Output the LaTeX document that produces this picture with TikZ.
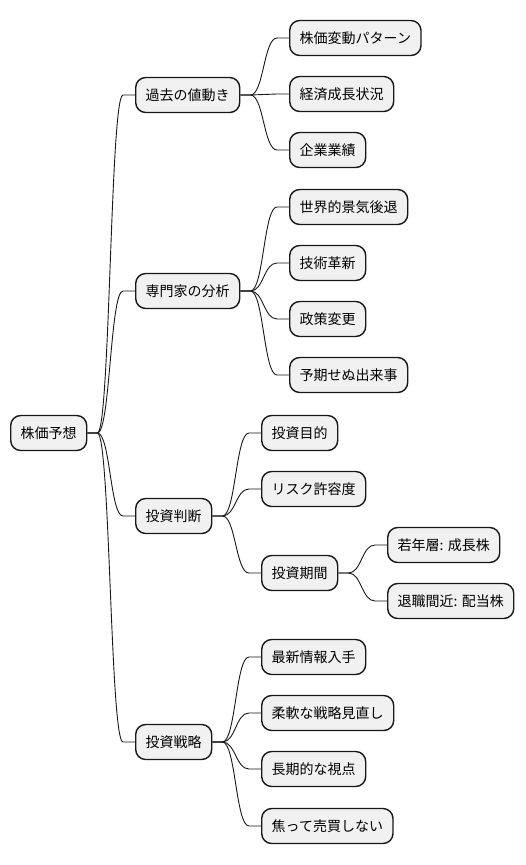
\documentclass[tikz,border=0pt]{standalone}
\usepackage{fontspec}
\setmainfont{Noto Sans CJK JP}
\usetikzlibrary{calc}
\definecolor{boxfill}{HTML}{F1F1F1}
\definecolor{boxline}{HTML}{181818}
\tikzset{
  mm/.style={draw=boxline, fill=boxfill, line width=1.4pt, rounded corners=10pt,
    minimum height=35pt, inner xsep=10pt, inner ysep=0pt, anchor=west,
    font=\fontsize{14pt}{16pt}\selectfont},
  conn/.style={draw=boxline, line width=0.9pt},
}
\newcommand\mmlink[2]{%
  \draw[conn] let \p1=(#1.east), \p2=(#2.west) in
    (\p1) -- (\x1+10pt,\y1)
    .. controls ({(\x1+\x2-2pt)/2},\y1) and ({(\x1+\x2-2pt)/2},\y2) ..
    (\x2-12pt,\y2) -- (\p2);}
\begin{document}
\begin{tikzpicture}[x=1pt,y=-1pt]
\useasboundingbox (0,0) rectangle (526,865);
% root
\node[mm] (root) at (10,433) {株価予想};
% level 1
\node[mm] (a) at (135,95) {過去の値動き};
\node[mm] (b) at (135,291) {専門家の分析};
\node[mm] (c) at (135,516) {投資判断};
\node[mm] (d) at (135,742) {投資戦略};
% group a
\node[mm] (a1) at (289,38) {株価変動パターン};
\node[mm] (a2) at (289,94) {経済成長状況};
\node[mm] (a3) at (289,150) {企業業績};
% group b
\node[mm] (b1) at (289,207) {世界的景気後退};
\node[mm] (b2) at (289,263) {技術革新};
\node[mm] (b3) at (289,319) {政策変更};
\node[mm] (b4) at (289,375) {予期せぬ出来事};
% group c
\node[mm] (c1) at (261,433) {投資目的};
\node[mm] (c2) at (261,489) {リスク許容度};
\node[mm] (c3) at (261,573) {投資期間};
\node[mm] (c31) at (387,545) {若年層: 成長株};
\node[mm] (c32) at (387,601) {退職間近: 配当株};
% group d
\node[mm] (d1) at (261,657) {最新情報入手};
\node[mm] (d2) at (261,713) {柔軟な戦略見直し};
\node[mm] (d3) at (261,769) {長期的な視点};
\node[mm] (d4) at (261,826) {焦って売買しない};
% links
\mmlink{root}{a}\mmlink{root}{b}\mmlink{root}{c}\mmlink{root}{d}
\mmlink{a}{a1}\mmlink{a}{a2}\mmlink{a}{a3}
\mmlink{b}{b1}\mmlink{b}{b2}\mmlink{b}{b3}\mmlink{b}{b4}
\mmlink{c}{c1}\mmlink{c}{c2}\mmlink{c}{c3}
\mmlink{c3}{c31}\mmlink{c3}{c32}
\mmlink{d}{d1}\mmlink{d}{d2}\mmlink{d}{d3}\mmlink{d}{d4}
\end{tikzpicture}
\end{document}
